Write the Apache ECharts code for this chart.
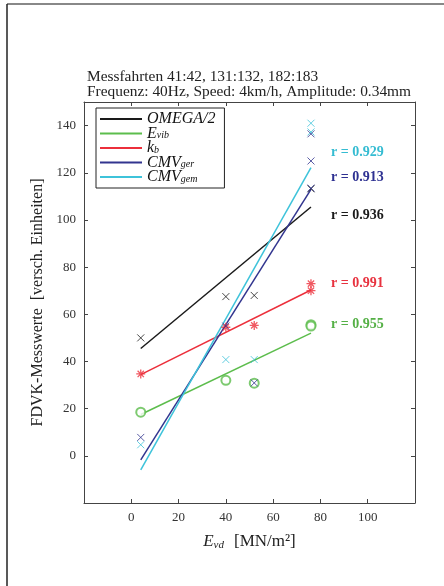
<!DOCTYPE html>
<html>
<head>
<meta charset="utf-8">
<script src="https://cdn.jsdelivr.net/npm/echarts@6/dist/echarts.min.js"></script>
<style>
  html, body { margin: 0; padding: 0; background: #fff; }
  #chart { width: 444px; height: 586px; }
</style>
</head>
<body>
<div id="chart"></div>
<script>
// Messwerte [E_vd, Wert]
const omegaPts = [[4, 50], [40, 67.5], [52, 68], [76, 113.2]];
const evibPts = [[4, 18.5], [40, 32], [52, 30.8], [76, 55.6], [76, 55]];
const kbPts = [[4, 34.7], [40, 54.5], [52, 55.3], [76, 73], [76, 70]];
const cmvGerPts = [[4, 7.8], [40, 55], [52, 30.9], [76, 136.5], [76, 125], [76, 113.5]];
const cmvGemPts = [[4, 4.7], [40, 40.8], [52, 40.8], [76, 141], [76, 137.3]];

// Regressionsgeraden (Endpunkte)
const omegaFit = [[4, 45.5], [76, 105.5]];
const evibFit = [[4, 17.5], [76, 52]];
const kbFit = [[4, 34.4], [76, 70.3]];
const cmvGerFit = [[4, -1.7], [76, 113]];
const cmvGemFit = [[4, -6], [76, 122.2]];

const names = ['OMEGA/2', 'E_vib', 'k_b', 'CMV_ger', 'CMV_gem'];
const rValues = ['0.936', '0.955', '0.991', '0.913', '0.929'];

const serif = 'Liberation Serif';
const cols = ['#1a1a1a', '#5cbd4c', '#ec2f3b', '#32358f', '#3ec3da'];
const labelCols = ['#1a1a1a', '#55b046', '#e8323f', '#2e3192', '#35bcd2'];
const labelOffsets = [[12, 8], [12, -9], [12, -7], [12, -12], [12, -15]];

const crossPath = 'path://M0,0L10,10M10,0L0,10';
const starPath = 'path://M5,0L5,10M0,5L10,5M1.5,1.5L8.5,8.5M8.5,1.5L1.5,8.5';

const legendLabels = {
  'OMEGA/2': '{i|OMEGA/2}',
  'E_vib': '{i|E}{s|vib}',
  'k_b': '{i|k}{s|b}',
  'CMV_ger': '{i|CMV}{s|ger}',
  'CMV_gem': '{i|CMV}{s|gem}'
};

const chart = echarts.init(document.getElementById('chart'));

function scatterSeries(data, idx) {
  let s = {
    type: 'scatter',
    name: names[idx] + ' pts',
    data: data,
    symbolKeepAspect: true,
    z: 3
  };
  if (idx === 1) {
    s.symbol = 'emptyCircle';
    s.symbolSize = 9;
    s.itemStyle = { color: cols[idx], borderColor: cols[idx], borderWidth: 1.4 };
  } else if (idx === 2) {
    s.symbol = starPath;
    s.symbolSize = 9;
    s.itemStyle = { color: 'rgba(0,0,0,0)', borderColor: cols[idx], borderWidth: 1.3 };
  } else {
    s.symbol = crossPath;
    s.symbolSize = 7;
    s.itemStyle = { color: 'rgba(0,0,0,0)', borderColor: cols[idx], borderWidth: 1 };
  }
  return s;
}

function fitSeries(data, idx) {
  return {
    type: 'line',
    name: names[idx],
    data: data,
    showSymbol: false,
    lineStyle: { color: cols[idx], width: 1.5 },
    itemStyle: { color: cols[idx] },
    z: 2,
    endLabel: {
      show: true,
      formatter: 'r = ' + rValues[idx],
      color: labelCols[idx],
      fontFamily: serif,
      fontWeight: 'bold',
      fontSize: 14,
      offset: labelOffsets[idx]
    }
  };
}

const pts = [omegaPts, evibPts, kbPts, cmvGerPts, cmvGemPts];
const fits = [omegaFit, evibFit, kbFit, cmvGerFit, cmvGemFit];
let series = [];
fits.forEach((f, i) => series.push(fitSeries(f, i)));
pts.forEach((p, i) => series.push(scatterSeries(p, i)));

const axisLine = { show: true, onZero: false, lineStyle: { color: '#444', width: 1 } };
const tick = { show: true, inside: true, length: 4, lineStyle: { color: '#444' } };

chart.setOption({
  animation: false,
  backgroundColor: '#fff',
  title: {
    text: 'Messfahrten 41:42, 131:132, 182:183\nFrequenz: 40Hz, Speed: 4km/h, Amplitude: 0.34mm',
    left: 82,
    top: 64,
    textStyle: { fontFamily: serif, fontSize: 15.4, fontWeight: 'normal', color: '#222', lineHeight: 15 }
  },
  legend: {
    data: names.map(n => ({ name: n, icon: 'rect' })),
    orient: 'vertical',
    left: 96,
    top: 108,
    itemWidth: 42,
    itemHeight: 2,
    itemGap: -1.5,
    padding: [3, 9, 3, 4],
    borderColor: '#222',
    borderWidth: 1,
    backgroundColor: '#fff',
    selectedMode: false,
    formatter: n => legendLabels[n],
    textStyle: {
      color: '#111',
      rich: {
        i: { fontFamily: serif, fontStyle: 'italic', fontSize: 16, color: '#111', lineHeight: 14 },
        s: { fontFamily: serif, fontStyle: 'italic', fontSize: 10, color: '#111', lineHeight: 10, padding: [4, 0, 0, 0] }
      }
    }
  },
  grid: { left: 84, right: 29, top: 102, bottom: 83 },
  xAxis: [{
    type: 'value',
    min: -20, max: 120, interval: 20,
    name: '{i|E}{s|vd}   {t|[MN/m²]}',
    nameLocation: 'middle',
    nameGap: 29,
    nameTextStyle: {
      rich: {
        i: { fontFamily: serif, fontStyle: 'italic', fontSize: 17, color: '#222' },
        s: { fontFamily: serif, fontStyle: 'italic', fontSize: 11, color: '#222', padding: [8, 0, 0, 0] },
        t: { fontFamily: serif, fontSize: 17, color: '#222' }
      }
    },
    axisLine: axisLine,
    axisTick: tick,
    splitLine: { show: false },
    axisLabel: { showMinLabel: false, showMaxLabel: false, fontFamily: serif, fontSize: 13, color: '#333', margin: 8 }
  }, {
    type: 'value', position: 'top',
    min: -20, max: 120, interval: 20,
    axisLine: axisLine, axisTick: tick,
    axisLabel: { show: false }, splitLine: { show: false }
  }],
  yAxis: [{
    type: 'value',
    min: -20, max: 150, interval: 20,
    name: 'FDVK-Messwerte  [versch. Einheiten]',
    nameLocation: 'middle',
    nameGap: 33,
    nameTextStyle: { fontFamily: serif, fontSize: 16, color: '#222' },
    axisLine: axisLine,
    axisTick: tick,
    splitLine: { show: false },
    axisLabel: { showMinLabel: false, showMaxLabel: false, fontFamily: serif, fontSize: 13, color: '#333', margin: 8 }
  }, {
    type: 'value', position: 'right',
    min: -20, max: 150, interval: 20,
    axisLine: axisLine, axisTick: tick,
    axisLabel: { show: false }, splitLine: { show: false }
  }],
  graphic: [
    { type: 'line', shape: { x1: 7, y1: 4, x2: 444, y2: 4 }, style: { stroke: '#888', lineWidth: 2 } },
    { type: 'line', shape: { x1: 7, y1: 4, x2: 7, y2: 586 }, style: { stroke: '#222', lineWidth: 1.5 } }
  ],
  series: series
});
</script>
</body>
</html>
